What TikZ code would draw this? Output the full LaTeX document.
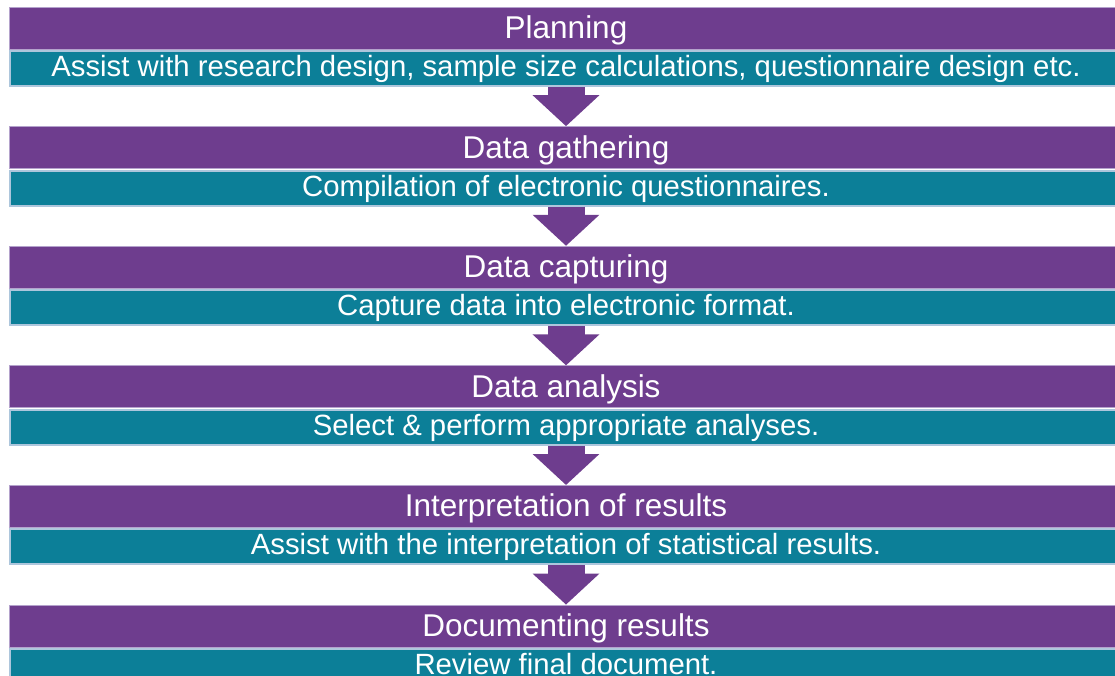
\documentclass[tikz,border=0pt]{standalone}
\usepackage{fontspec}
\setmainfont{Liberation Sans}
\usetikzlibrary{positioning,arrows.meta}
\definecolor{stagepurple}{HTML}{6E3D8E}
\definecolor{stageedge}{HTML}{B4A2CC}
\definecolor{taskteal}{HTML}{0C7F98}
\definecolor{taskedge}{HTML}{ADC6DC}

\begin{document}
\begin{tikzpicture}[x=1pt,y=-1pt,
  stage/.style={fill=stagepurple,draw=stageedge,line width=0.8pt,minimum width=1114pt,
    minimum height=42pt,inner sep=0pt,text=white,
    font=\fontsize{31.5}{36}\selectfont,text height=26pt,text depth=5pt},
  task/.style={fill=taskteal,draw=taskedge,line width=2pt,minimum width=1112pt,
    minimum height=35pt,inner sep=0pt,text=white,
    font=\fontsize{29.3}{34}\selectfont,text height=22pt,text depth=6pt},
  flow/.style={color=stagepurple,line width=37pt,-{Triangle[length=31pt,width=65pt]}}]
  \useasboundingbox (0,0) rectangle (1115,675);
  \node[stage] (plan) at (566,28) {Planning};
  \node[task,below=0.6pt of plan] (plan-t) {Assist with research design, sample size calculations, questionnaire design etc.};
  \node[stage,below=39.2pt of plan-t] (gather) {Data gathering};
  \node[task,below=0.6pt of gather] (gather-t) {Compilation of electronic questionnaires.};
  \node[stage,below=39.2pt of gather-t] (capture) {Data capturing};
  \node[task,below=0.6pt of capture] (capture-t) {Capture data into electronic format.};
  \node[stage,below=39.2pt of capture-t] (analyse) {Data analysis};
  \node[task,below=0.6pt of analyse] (analyse-t) {Select \& perform appropriate analyses.};
  \node[stage,below=39.2pt of analyse-t] (interpret) {Interpretation of results};
  \node[task,below=0.6pt of interpret] (interpret-t) {Assist with the interpretation of statistical results.};
  \node[stage,below=39.2pt of interpret-t] (document) {Documenting results};
  \node[task,below=0.6pt of document] (document-t) {Review final document.};
  \path[flow]
  (plan-t) edge (gather)
  (gather-t) edge (capture)
  (capture-t) edge (analyse)
  (analyse-t) edge (interpret)
  (interpret-t) edge (document);
\end{tikzpicture}
\end{document}
